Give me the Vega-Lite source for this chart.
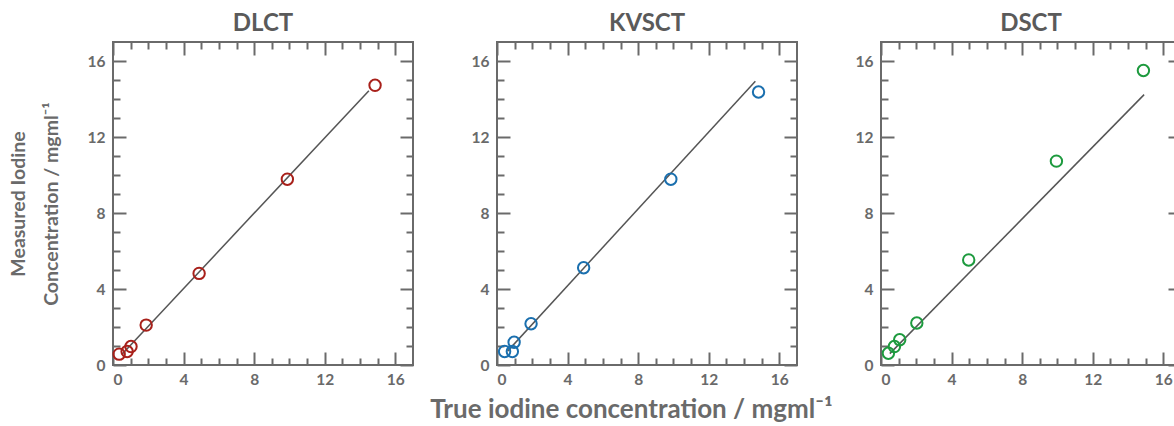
{
  "$schema": "https://vega.github.io/schema/vega-lite/v6.json",
  "background": "white",
  "padding": {"left": 7, "top": 11, "right": 0, "bottom": 0},
  "bounds": "flush",
  "spacing": 84,
  "config": {
    "font": "Lato",
    "view": {"stroke": "#6a6a6a", "strokeWidth": 2},
    "title": {"font": "Lato", "fontSize": 24, "fontWeight": "bold", "color": "#5a5a5a", "offset": 5},
    "axis": {
      "domain": false, "grid": false,
      "tickColor": "#6a6a6a", "tickWidth": 2,
      "labelColor": "#6a6a6a", "labelFont": "Lato", "labelFontSize": 15.5, "labelFontWeight": "bold",
      "titleColor": "#6a6a6a", "titleFont": "Lato", "titleFontWeight": "bold"
    }
  },
  "datasets": {
    "pts": [
      {"panel": "DLCT", "x": 0.35, "y": 0.57},
      {"panel": "DLCT", "x": 0.8, "y": 0.71},
      {"panel": "DLCT", "x": 1.02, "y": 0.97},
      {"panel": "DLCT", "x": 1.88, "y": 2.1},
      {"panel": "DLCT", "x": 4.88, "y": 4.82},
      {"panel": "DLCT", "x": 9.88, "y": 9.78},
      {"panel": "DLCT", "x": 14.85, "y": 14.72},
      {"panel": "KVSCT", "x": 0.43, "y": 0.71},
      {"panel": "KVSCT", "x": 0.87, "y": 0.71},
      {"panel": "KVSCT", "x": 0.97, "y": 1.2},
      {"panel": "KVSCT", "x": 1.93, "y": 2.17},
      {"panel": "KVSCT", "x": 4.91, "y": 5.12},
      {"panel": "KVSCT", "x": 9.85, "y": 9.78},
      {"panel": "KVSCT", "x": 14.82, "y": 14.37},
      {"panel": "DSCT", "x": 0.42, "y": 0.62},
      {"panel": "DSCT", "x": 0.76, "y": 0.97},
      {"panel": "DSCT", "x": 1.06, "y": 1.33},
      {"panel": "DSCT", "x": 2.03, "y": 2.21},
      {"panel": "DSCT", "x": 4.97, "y": 5.53},
      {"panel": "DSCT", "x": 9.94, "y": 10.73},
      {"panel": "DSCT", "x": 14.87, "y": 15.5}
    ],
    "fit": [
      {"panel": "DLCT", "x": 0.5, "y": 0.55},
      {"panel": "DLCT", "x": 14.5, "y": 14.44},
      {"panel": "KVSCT", "x": 0.6, "y": 0.73},
      {"panel": "KVSCT", "x": 14.64, "y": 14.94},
      {"panel": "DSCT", "x": 0.5, "y": 0.6},
      {"panel": "DSCT", "x": 14.91, "y": 14.23}
    ]
  },
  "hconcat": [
    {
      "width": 300, "height": 323,
      "title": "DLCT",
      "resolve": {"axis": {"x": "independent", "y": "independent"}},
      "layer": [
        {
          "data": {"name": "fit"},
          "transform": [{"filter": "datum.panel === 'DLCT'"}],
          "mark": {"type": "line", "color": "#555555", "strokeWidth": 1.5},
          "encoding": {
            "x": {"field": "x", "type": "quantitative", "scale": {"domain": [0, 17], "nice": false},
                  "axis": {"orient": "top", "values": [0, 4, 8, 12, 16], "tickSize": -13, "labels": false, "title": null}},
            "y": {"field": "y", "type": "quantitative", "scale": {"domain": [0, 17], "nice": false},
                  "axis": {"orient": "right", "values": [0, 4, 8, 12, 16], "tickSize": -13, "labels": false, "title": null}}
          }
        },
        {
          "data": {"name": "pts"},
          "transform": [{"filter": "datum.panel === 'DLCT'"}],
          "mark": {"type": "point", "shape": "circle", "filled": false, "size": 130, "strokeWidth": 2, "color": "#a8201a", "opacity": 1},
          "encoding": {
            "x": {"field": "x", "type": "quantitative", "scale": {"domain": [0, 17], "nice": false},
                  "axis": {"orient": "bottom", "values": [0, 4, 8, 12, 16], "tickSize": -13, "labelPadding": 20, "title": null}},
            "y": {"field": "y", "type": "quantitative", "scale": {"domain": [0, 17], "nice": false},
                  "axis": {"orient": "left", "values": [0, 4, 8, 12, 16], "tickSize": -13, "labelPadding": 21,
                           "title": ["Measured Iodine", "Concentration / mgml⁻¹"], "titleFontSize": 19.5, "titleLineHeight": 33, "titlePadding": 26}}
          }
        },
        {
          "data": {"name": "pts"},
          "transform": [{"filter": "datum.panel === 'DLCT'"}],
          "mark": {"type": "point", "opacity": 0},
          "encoding": {
            "x": {"field": "x", "type": "quantitative", "scale": {"domain": [0, 17], "nice": false},
                  "axis": {"orient": "bottom", "values": [1, 2, 3, 5, 6, 7, 9, 10, 11, 13, 14, 15], "tickSize": -7, "labels": false, "title": null}},
            "y": {"field": "y", "type": "quantitative", "scale": {"domain": [0, 17], "nice": false},
                  "axis": {"orient": "left", "values": [1, 2, 3, 5, 6, 7, 9, 10, 11, 13, 14, 15], "tickSize": -7, "labels": false, "title": null}}
          }
        },
        {
          "data": {"name": "pts"},
          "transform": [{"filter": "datum.panel === 'DLCT'"}],
          "mark": {"type": "point", "opacity": 0},
          "encoding": {
            "x": {"field": "x", "type": "quantitative", "scale": {"domain": [0, 17], "nice": false},
                  "axis": {"orient": "top", "values": [1, 2, 3, 5, 6, 7, 9, 10, 11, 13, 14, 15], "tickSize": -7, "labels": false, "title": null}},
            "y": {"field": "y", "type": "quantitative", "scale": {"domain": [0, 17], "nice": false},
                  "axis": {"orient": "right", "values": [1, 2, 3, 5, 6, 7, 9, 10, 11, 13, 14, 15], "tickSize": -7, "labels": false, "title": null}}
          }
        }
      ]
    },
    {
      "width": 300, "height": 323,
      "title": "KVSCT",
      "resolve": {"axis": {"x": "independent", "y": "independent"}},
      "layer": [
        {
          "data": {"name": "fit"},
          "transform": [{"filter": "datum.panel === 'KVSCT'"}],
          "mark": {"type": "line", "color": "#555555", "strokeWidth": 1.5},
          "encoding": {
            "x": {"field": "x", "type": "quantitative", "scale": {"domain": [0, 17], "nice": false},
                  "axis": {"orient": "top", "values": [0, 4, 8, 12, 16], "tickSize": -13, "labels": false, "title": null}},
            "y": {"field": "y", "type": "quantitative", "scale": {"domain": [0, 17], "nice": false},
                  "axis": {"orient": "right", "values": [0, 4, 8, 12, 16], "tickSize": -13, "labels": false, "title": null}}
          }
        },
        {
          "data": {"name": "pts"},
          "transform": [{"filter": "datum.panel === 'KVSCT'"}],
          "mark": {"type": "point", "shape": "circle", "filled": false, "size": 130, "strokeWidth": 2, "color": "#1a6fae", "opacity": 1},
          "encoding": {
            "x": {"field": "x", "type": "quantitative", "scale": {"domain": [0, 17], "nice": false},
                  "axis": {"orient": "bottom", "values": [0, 4, 8, 12, 16], "tickSize": -13, "labelPadding": 20,
                           "title": "True iodine concentration / mgml⁻¹", "titleFontSize": 26, "titleX": 134, "titlePadding": 9}},
            "y": {"field": "y", "type": "quantitative", "scale": {"domain": [0, 17], "nice": false},
                  "axis": {"orient": "left", "values": [0, 4, 8, 12, 16], "tickSize": -13, "labelPadding": 21, "title": null}}
          }
        },
        {
          "data": {"name": "pts"},
          "transform": [{"filter": "datum.panel === 'KVSCT'"}],
          "mark": {"type": "point", "opacity": 0},
          "encoding": {
            "x": {"field": "x", "type": "quantitative", "scale": {"domain": [0, 17], "nice": false},
                  "axis": {"orient": "bottom", "values": [1, 2, 3, 5, 6, 7, 9, 10, 11, 13, 14, 15], "tickSize": -7, "labels": false, "title": null}},
            "y": {"field": "y", "type": "quantitative", "scale": {"domain": [0, 17], "nice": false},
                  "axis": {"orient": "left", "values": [1, 2, 3, 5, 6, 7, 9, 10, 11, 13, 14, 15], "tickSize": -7, "labels": false, "title": null}}
          }
        },
        {
          "data": {"name": "pts"},
          "transform": [{"filter": "datum.panel === 'KVSCT'"}],
          "mark": {"type": "point", "opacity": 0},
          "encoding": {
            "x": {"field": "x", "type": "quantitative", "scale": {"domain": [0, 17], "nice": false},
                  "axis": {"orient": "top", "values": [1, 2, 3, 5, 6, 7, 9, 10, 11, 13, 14, 15], "tickSize": -7, "labels": false, "title": null}},
            "y": {"field": "y", "type": "quantitative", "scale": {"domain": [0, 17], "nice": false},
                  "axis": {"orient": "right", "values": [1, 2, 3, 5, 6, 7, 9, 10, 11, 13, 14, 15], "tickSize": -7, "labels": false, "title": null}}
          }
        }
      ]
    },
    {
      "width": 300, "height": 323,
      "title": "DSCT",
      "resolve": {"axis": {"x": "independent", "y": "independent"}},
      "layer": [
        {
          "data": {"name": "fit"},
          "transform": [{"filter": "datum.panel === 'DSCT'"}],
          "mark": {"type": "line", "color": "#555555", "strokeWidth": 1.5},
          "encoding": {
            "x": {"field": "x", "type": "quantitative", "scale": {"domain": [0, 17], "nice": false},
                  "axis": {"orient": "top", "values": [0, 4, 8, 12, 16], "tickSize": -13, "labels": false, "title": null}},
            "y": {"field": "y", "type": "quantitative", "scale": {"domain": [0, 17], "nice": false},
                  "axis": {"orient": "right", "values": [0, 4, 8, 12, 16], "tickSize": -13, "labels": false, "title": null}}
          }
        },
        {
          "data": {"name": "pts"},
          "transform": [{"filter": "datum.panel === 'DSCT'"}],
          "mark": {"type": "point", "shape": "circle", "filled": false, "size": 130, "strokeWidth": 2, "color": "#1d9a3e", "opacity": 1},
          "encoding": {
            "x": {"field": "x", "type": "quantitative", "scale": {"domain": [0, 17], "nice": false},
                  "axis": {"orient": "bottom", "values": [0, 4, 8, 12, 16], "tickSize": -13, "labelPadding": 20, "title": null}},
            "y": {"field": "y", "type": "quantitative", "scale": {"domain": [0, 17], "nice": false},
                  "axis": {"orient": "left", "values": [0, 4, 8, 12, 16], "tickSize": -13, "labelPadding": 21, "title": null}}
          }
        },
        {
          "data": {"name": "pts"},
          "transform": [{"filter": "datum.panel === 'DSCT'"}],
          "mark": {"type": "point", "opacity": 0},
          "encoding": {
            "x": {"field": "x", "type": "quantitative", "scale": {"domain": [0, 17], "nice": false},
                  "axis": {"orient": "bottom", "values": [1, 2, 3, 5, 6, 7, 9, 10, 11, 13, 14, 15], "tickSize": -7, "labels": false, "title": null}},
            "y": {"field": "y", "type": "quantitative", "scale": {"domain": [0, 17], "nice": false},
                  "axis": {"orient": "left", "values": [1, 2, 3, 5, 6, 7, 9, 10, 11, 13, 14, 15], "tickSize": -7, "labels": false, "title": null}}
          }
        },
        {
          "data": {"name": "pts"},
          "transform": [{"filter": "datum.panel === 'DSCT'"}],
          "mark": {"type": "point", "opacity": 0},
          "encoding": {
            "x": {"field": "x", "type": "quantitative", "scale": {"domain": [0, 17], "nice": false},
                  "axis": {"orient": "top", "values": [1, 2, 3, 5, 6, 7, 9, 10, 11, 13, 14, 15], "tickSize": -7, "labels": false, "title": null}},
            "y": {"field": "y", "type": "quantitative", "scale": {"domain": [0, 17], "nice": false},
                  "axis": {"orient": "right", "values": [1, 2, 3, 5, 6, 7, 9, 10, 11, 13, 14, 15], "tickSize": -7, "labels": false, "title": null}}
          }
        }
      ]
    }
  ]
}
